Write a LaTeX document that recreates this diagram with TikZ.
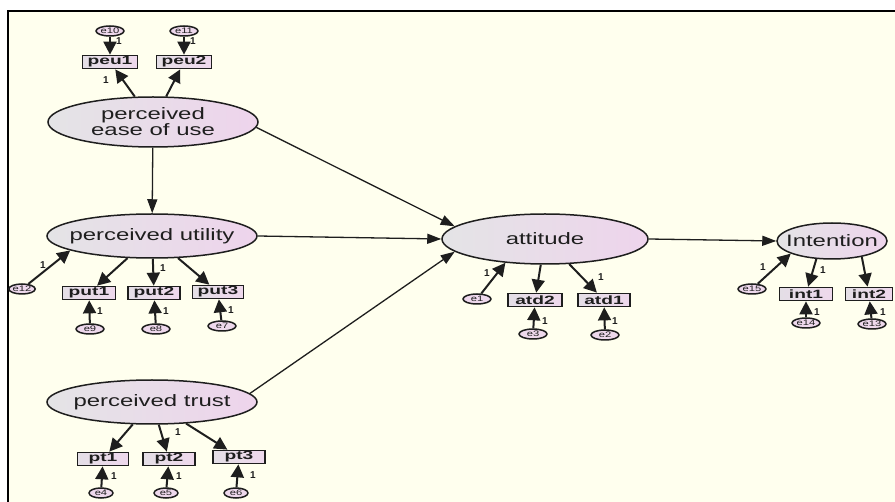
\documentclass[tikz,border=0pt]{standalone}
\usepackage{fontspec}
\setmainfont{Liberation Sans}
\newfontfamily\latfont[FakeStretch=1.45]{Liberation Sans}
\newfontfamily\boxfont[FakeStretch=1.6]{Liberation Sans}
\newfontfamily\efont[FakeStretch=1.4]{Liberation Sans}
\usetikzlibrary{shapes.geometric,arrows.meta}
\definecolor{bg}{RGB}{255,255,238}
\definecolor{ink}{RGB}{30,30,30}
\definecolor{latL}{RGB}{228,228,230}
\definecolor{latR}{RGB}{238,212,236}
\definecolor{boxL}{RGB}{228,222,230}
\definecolor{boxR}{RGB}{238,216,236}
\begin{document}
\begin{tikzpicture}[x=1pt,y=-1pt,
 latent/.style={ellipse, draw=ink, line width=1.5pt, left color=latL, right color=latR, inner sep=0pt},
 lattext/.style={inner sep=0pt, font=\latfont\fontsize{16.5}{16}\selectfont, text=ink, align=center},
 obs/.style={rectangle, draw=ink, line width=1.7pt, left color=boxL, right color=boxR, minimum height=13pt, inner sep=0pt, font=\boxfont\bfseries\fontsize{12}{12}\selectfont, text=ink},
 err/.style={ellipse, draw=ink, line width=1.5pt, fill=boxR, minimum width=28pt, minimum height=10pt, inner sep=0pt, font=\efont\fontsize{8}{8}\selectfont, text=ink},
 meas/.style={draw=ink, line width=2pt, -{Triangle[length=13pt,width=13pt]}},
 reg/.style={draw=ink, line width=1.3pt, -{Triangle[length=14pt,width=10pt]}},
 one/.style={font=\bfseries\fontsize{10}{10}\selectfont, text=ink, inner sep=0pt}
]
\useasboundingbox (0,0) rectangle (895,502);
\fill[white] (0,0) rectangle (895,502);
\filldraw[fill=bg, draw=black, line width=1.4pt] (8,11) rectangle (905,515);

% latent variables
\node[latent, minimum width=210pt, minimum height=50pt] (PEU) at (153,122) {};
\node[latent, minimum width=210pt, minimum height=44pt] (PU) at (152,236) {};
\node[latent, minimum width=210pt, minimum height=44pt] (PT) at (152,402) {};
\node[latent, minimum width=206pt, minimum height=50pt] (ATT) at (545,239) {};
\node[latent, minimum width=110pt, minimum height=36pt] (INT) at (832,241) {};
\node[lattext] (PEUt) at (PEU) {perceived\\ease of use};
\node[lattext] (PUt) at (PU) {perceived utility};
\node[lattext] (PTt) at (PT) {perceived trust};
\node[lattext] (ATTt) at (ATT) {attitude};
\node[lattext] (INTt) at (INT) {Intention};

% observed variables
\node[obs, minimum width=55pt] (peu1) at (110,62) {peu1};
\node[obs, minimum width=55pt] (peu2) at (184,62) {peu2};
\node[obs, minimum width=53pt] (put1) at (89,293) {put1};
\node[obs, minimum width=52pt] (put2) at (154,293) {put2};
\node[obs, minimum width=51pt] (put3) at (218,292) {put3};
\node[obs, minimum width=51pt] (pt1) at (103,459) {pt1};
\node[obs, minimum width=52pt] (pt2) at (169,459) {pt2};
\node[obs, minimum width=52pt] (pt3) at (239,457) {pt3};
\node[obs, minimum width=54pt] (atd2) at (535,300) {atd2};
\node[obs, minimum width=52pt] (atd1) at (604,300) {atd1};
\node[obs, minimum width=53pt] (int1) at (806,294) {int1};
\node[obs, minimum width=47pt] (int2) at (869,294) {int2};

% error terms
\node[err] (e10) at (110,31) {e10};
\node[err] (e11) at (184,31) {e11};
\node[err, minimum width=22pt] (e12) at (22,289) {e12};
\node[err] (e9) at (90,329) {e9};
\node[err] (e8) at (156,329) {e8};
\node[err] (e7) at (222,326) {e7};
\node[err, minimum width=24pt] (e4) at (101,493) {e4};
\node[err, minimum width=24pt] (e5) at (166,493) {e5};
\node[err, minimum width=24pt] (e6) at (236,493) {e6};
\node[err] (e1) at (477,299) {e1};
\node[err] (e3) at (533,334) {e3};
\node[err] (e2) at (605,335) {e2};
\node[err] (e15) at (752,289) {e15};
\node[err] (e14) at (806,323) {e14};
\node[err] (e13) at (872,324) {e13};

% structural paths
\draw[reg] (PEU) -- (PU);
\draw[reg] (PEU.-3) -- (ATT.172);
\draw[reg] (PU.east) -- (ATT.west);
\draw[reg] (PT.5) -- (ATT.188);
\draw[reg] (ATT.east) -- (INT.west);

% measurement paths
\draw[meas] (e10) -- (peu1);
\draw[meas] (e11) -- (peu2);
\draw[meas] (PEU) -- (peu1);
\draw[meas] (PEU) -- (peu2);
\draw[meas] (e12) -- (PU.190);
\draw[meas] (PU) -- (put1);
\draw[meas] (PU) -- (put2);
\draw[meas] (PU) -- (put3);
\draw[meas] (e9) -- (put1);
\draw[meas] (e8) -- (put2);
\draw[meas] (e7) -- (put3);
\draw[meas] (PT) -- (pt1);
\draw[meas] (PT) -- (pt2);
\draw[meas] (PT) -- (pt3);
\draw[meas] (e4) -- (pt1);
\draw[meas] (e5) -- (pt2);
\draw[meas] (e6) -- (pt3);
\draw[meas] (e1) -- (ATT.211);
\draw[meas] (ATT) -- (atd2);
\draw[meas] (ATT) -- (atd1);
\draw[meas] (e3) -- (atd2);
\draw[meas] (e2) -- (atd1);
\draw[meas] (e15) -- (INT.197);
\draw[meas] (INT.-131) -- (int1);
\draw[meas] (INT.-28) -- (int2);
\draw[meas] (e14) -- (int1);
\draw[meas] (e13) -- (int2);

% fixed loadings
\node[one] (o1) at (119,41) {1};
\node[one] (o2) at (193,41) {1};
\node[one] (o3) at (106,80) {1};
\node[one] (o4) at (43,265) {1};
\node[one] (o5) at (163,268) {1};
\node[one] (o6) at (100,311) {1};
\node[one] (o7) at (166,311) {1};
\node[one] (o8) at (231,310) {1};
\node[one] (o9) at (178,432) {1};
\node[one] (o10) at (114,476) {1};
\node[one] (o11) at (179,476) {1};
\node[one] (o12) at (253,475) {1};
\node[one] (o13) at (487,273) {1};
\node[one] (o14) at (601,277) {1};
\node[one] (o15) at (545,321) {1};
\node[one] (o16) at (615,321) {1};
\node[one] (o17) at (763,267) {1};
\node[one] (o18) at (823,270) {1};
\node[one] (o19) at (817,312) {1};
\node[one] (o20) at (883,312) {1};
\end{tikzpicture}
\end{document}
